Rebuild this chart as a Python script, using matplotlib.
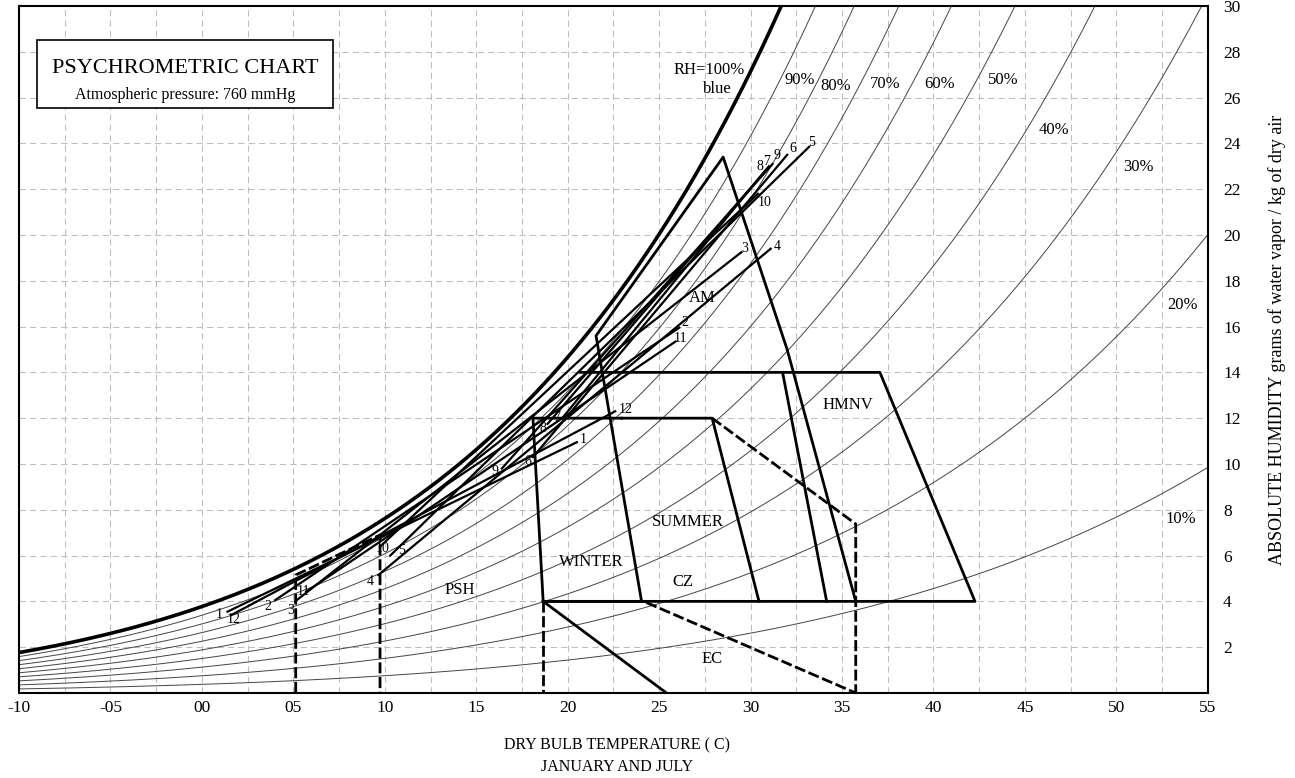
import numpy as np
import matplotlib.pyplot as plt
from matplotlib.patches import Rectangle

plt.rcParams['font.family'] = ['Liberation Serif', 'DejaVu Serif']

# atmospheric pressure (760 mmHg) in kPa
pressure = 101.325

# relative humidity curves
rh_levels = [10, 20, 30, 40, 50, 60, 70, 80, 90]

# month lines: low end (temperature, humidity) and high end
months = [1, 2, 3, 4, 5, 6, 7, 8, 9, 10, 11, 12]
low_t = [1.4, 4.0, 5.1, 9.65, 10.3, 18.1, 19.7, 18.9, 16.4, 9.75, 5.7, 1.6]
low_w = [3.55, 4.05, 4.0, 5.15, 6.0, 10.3, 12.0, 11.75, 9.8, 6.4, 4.42, 3.4]
high_t = [20.5, 26.1, 29.5, 31.1, 33.2, 32.0, 31.0, 30.8, 31.2, 30.4, 25.9, 22.6]
high_w = [10.95, 15.95, 19.25, 19.4, 23.85, 23.5, 23.0, 22.8, 23.1, 21.8, 15.35, 12.3]

# zone outlines (dry bulb C, g/kg)
winter_t = [22.95, 18.1, 18.66, 24.4]
winter_w = [12.0, 12.0, 4.0, 4.0]
summer_t = [22.95, 27.9, 30.46]
summer_w = [12.0, 12.0, 4.0]
hmnv_t = [20.67, 37.07, 42.27, 18.66]
hmnv_w = [14.0, 14.0, 4.0, 4.0]
am_t = [24.04, 21.55, 28.5, 32.0, 35.75]
am_w = [4.0, 15.6, 23.4, 15.0, 4.0]
inner_t = [31.75, 34.16]
inner_w = [14.0, 4.0]
cz_ext_t = [27.9, 35.75, 35.75]
cz_ext_w = [12.0, 7.38, 0.0]
ec_solid_t = [18.66, 25.4]
ec_solid_w = [4.0, 0.0]
ec_dash_t = [24.3, 35.75]
ec_dash_w = [3.95, 0.0]
winter_drop_t = [18.66, 18.66]
winter_drop_w = [4.0, 0.0]
psh_t = [5.13, 5.13, 9.74, 9.74]
psh_w = [0.0, 5.15, 6.9, 0.0]


def humidity_ratio(t, rh):
    pws = 0.61094 * np.exp(17.625 * t / (t + 243.04))
    pw = rh / 100.0 * pws
    return 622.0 * pw / (pressure - pw)


fig = plt.figure(figsize=(12.95, 7.78), dpi=100)
ax = fig.add_axes([0.01467, 0.1093, 0.918, 0.883])

t = np.linspace(-10, 55, 500)
for rh in rh_levels:
    ax.plot(t, humidity_ratio(t, rh), color='#444444', lw=0.7, zorder=2)
ax.plot(t, humidity_ratio(t, 100), color='black', lw=2.6, zorder=3)

for m, t0, w0, t1, w1 in zip(months, low_t, low_w, high_t, high_w):
    ax.plot([t0, t1], [w0, w1], color='black', lw=1.6, zorder=4)

solid = dict(color='black', lw=2.0, zorder=5)
dashed = dict(color='black', lw=2.0, zorder=5, linestyle=(0, (4, 1.3)))
ax.plot(winter_t, winter_w, **solid)
ax.plot(summer_t, summer_w, **solid)
ax.plot(hmnv_t, hmnv_w, **solid)
ax.plot(am_t, am_w, **solid)
ax.plot(inner_t, inner_w, **solid)
ax.plot(ec_solid_t, ec_solid_w, **solid)
ax.plot(cz_ext_t, cz_ext_w, **dashed)
ax.plot(ec_dash_t, ec_dash_w, **dashed)
ax.plot(winter_drop_t, winter_drop_w, **dashed)
ax.plot(psh_t, psh_w, **dashed)

# month numbers
low_lab = [(0.93, 3.41), (3.61, 3.76), (4.87, 3.58), (9.19, 4.85), (10.94, 6.24),
           (17.83, 10.09), (19.4, 12.05), (18.65, 11.57), (16.03, 9.65), (9.9, 6.29),
           (5.53, 4.45), (1.75, 3.19)]
high_lab = [(20.84, 11.05), (26.41, 16.16), (29.69, 19.43), (31.44, 19.48), (33.36, 24.02),
            (32.32, 23.76), (30.9, 23.19), (30.51, 22.97), (31.44, 23.45), (30.79, 21.44),
            (26.19, 15.46), (23.2, 12.4)]
for m, (x0, y0), (x1, y1) in zip(months, low_lab, high_lab):
    ax.text(x0, y0, str(m), fontsize=10, ha='center', va='center', zorder=6)
    ax.text(x1, y1, str(m), fontsize=10, ha='center', va='center', zorder=6)

rh_lab = [(53.5, 7.6), (53.64, 16.94), (51.2, 22.97), (46.6, 24.6), (43.8, 26.77),
          (40.36, 26.6), (37.35, 26.6), (34.67, 26.5), (32.7, 26.77)]
for rh, (x, y) in zip(rh_levels, rh_lab):
    ax.text(x, y, f'{rh}%', fontsize=12, ha='center', va='center')
ax.text(27.72, 27.2, 'RH=100%', fontsize=12, ha='center', va='center')
ax.text(28.16, 26.38, 'blue', fontsize=12, ha='center', va='center')

zone_lab = [('AM', 27.34, 17.25), ('HMNV', 35.33, 12.58), ('SUMMER', 26.58, 7.47),
            ('WINTER', 21.27, 5.72), ('CZ', 26.3, 4.85), ('PSH', 14.1, 4.5), ('EC', 27.9, 1.48)]
for name, x, y in zone_lab:
    ax.text(x, y, name, fontsize=12, ha='center', va='center', zorder=6)

# title box
ax.add_patch(Rectangle((-9.02, 25.55), 16.19, 2.97, fill=True, facecolor='white',
                       edgecolor='black', lw=1.2, zorder=7))
ax.text(-0.92, 27.25, 'PSYCHROMETRIC CHART', fontsize=16, ha='center', va='center', zorder=8)
ax.text(-0.92, 26.12, 'Atmospheric pressure: 760 mmHg', fontsize=11.5, ha='center',
        va='center', zorder=8)

ax.set_xlim(-10, 55)
ax.set_ylim(0, 30)
ax.set_xticks(np.arange(-10, 56, 5))
ax.set_xticklabels(['-10', '-05', '00', '05', '10', '15', '20', '25', '30', '35', '40',
                    '45', '50', '55'])
ax.set_yticks(np.arange(2, 31, 2))
ax.yaxis.tick_right()
ax.tick_params(axis='both', length=0, labelsize=12.5)
ax.tick_params(axis='x', pad=5)
ax.tick_params(axis='y', pad=11)

for gx in np.arange(-7.5, 55, 2.5):
    ax.axvline(gx, color='#bdbdbd', lw=0.75, linestyle=(0, (6, 4)), zorder=1)
for gy in np.arange(2, 30, 2):
    ax.axhline(gy, color='#bdbdbd', lw=0.75, linestyle=(0, (6, 4)), zorder=1)
for s in ax.spines.values():
    s.set_linewidth(1.5)

fig.text(617 / 1295, 1 - 745 / 778, 'DRY BULB TEMPERATURE ( C)', fontsize=11.5,
         ha='center', va='center')
fig.text(617 / 1295, 1 - 767 / 778, 'JANUARY AND JULY', fontsize=11.5,
         ha='center', va='center')
fig.text(1277 / 1295, 1 - 340 / 778,
         'ABSOLUTE HUMIDITY grams of water vapor / kg of dry air', fontsize=13,
         rotation=90, ha='center', va='center')

fig.savefig('out.png', dpi=100)
